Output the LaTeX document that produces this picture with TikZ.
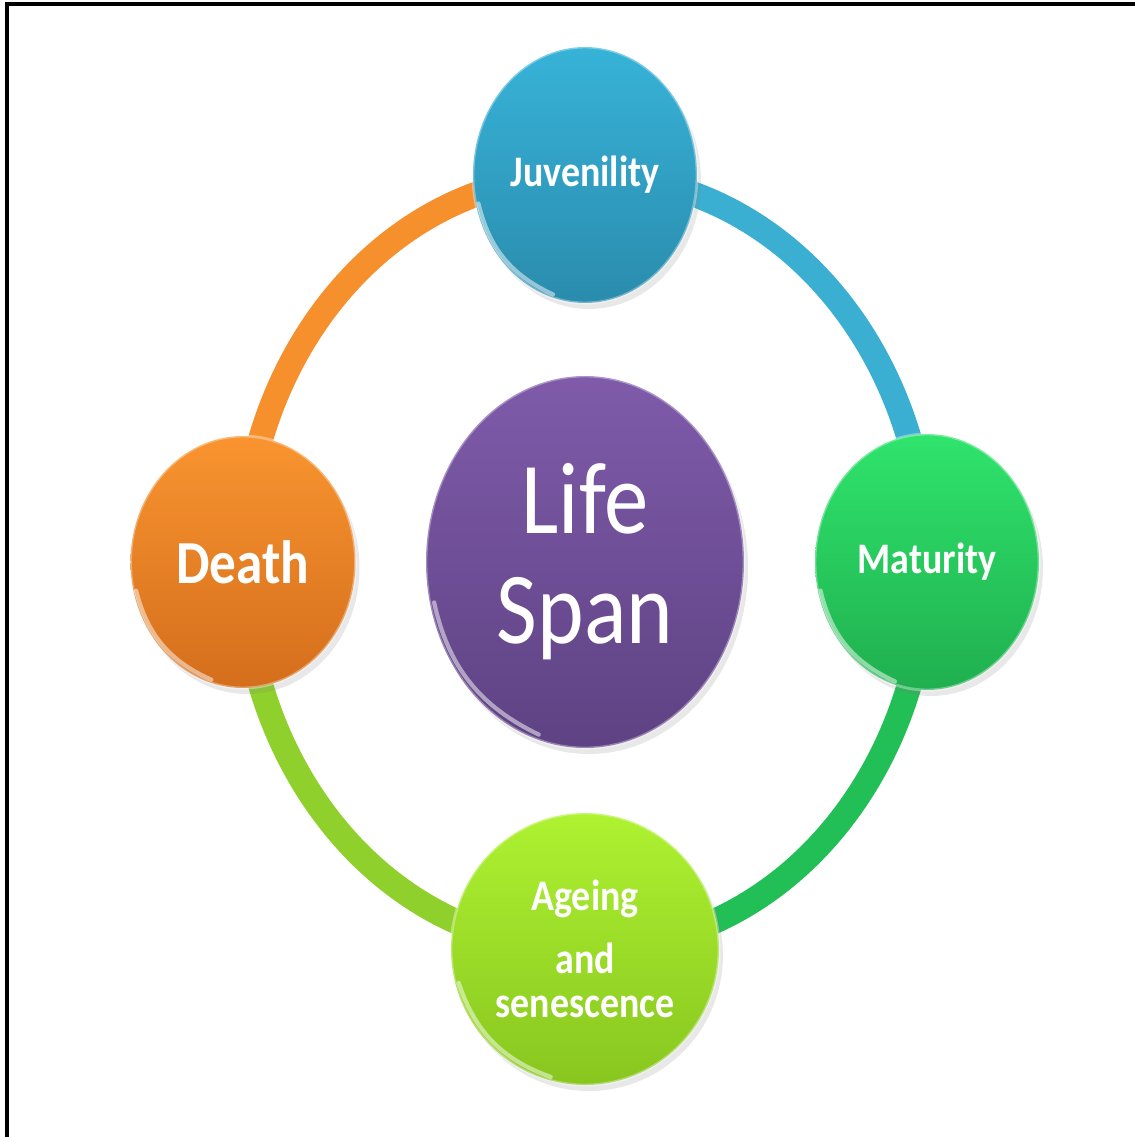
\documentclass[tikz,border=0pt]{standalone}
\usepackage{fontspec}
\setmainfont{Carlito}[FakeStretch=0.87]
\usetikzlibrary{shapes.geometric,positioning,backgrounds,shadows,calc}

\definecolor{lifetop}{HTML}{7F5BAA}
\definecolor{lifebot}{HTML}{5E4283}
\definecolor{juvtop}{HTML}{37B3D8}
\definecolor{juvbot}{HTML}{2A8CAD}
\definecolor{mattop}{HTML}{2FE46C}
\definecolor{matbot}{HTML}{20AF4F}
\definecolor{agetop}{HTML}{AEF231}
\definecolor{agebot}{HTML}{88C61F}
\definecolor{deathtop}{HTML}{F99430}
\definecolor{deathbot}{HTML}{D46E1C}
\definecolor{juvring}{HTML}{3AAFD2}
\definecolor{matring}{HTML}{22BE56}
\definecolor{agering}{HTML}{8FD02C}
\definecolor{deathring}{HTML}{F5902C}

\begin{document}
\begin{tikzpicture}[node distance=3.87cm and 3.42cm,on grid,
  main node/.style={ellipse,draw=white,draw opacity=.35,line width=.8pt,inner sep=0pt,align=center,text=white,
    minimum width=2.24cm,minimum height=2.56cm,font=\fontsize{12.4}{12.5}\selectfont\bfseries,
    drop shadow={opacity=.18,shadow xshift=.04cm,shadow yshift=-.06cm}},
  ring/.style={line width=.25cm},
  gloss/.style={white,opacity=.5,line width=1.2pt,line cap=round}]
  \useasboundingbox (-5.85,-5.75) rectangle (5.50,5.62);
  \draw[line width=.9pt] (-5.78,-5.75) -- (-5.78,5.58) -- (5.50,5.58);

  \node[main node,minimum width=3.18cm,minimum height=3.72cm,top color=lifetop,bottom color=lifebot,
    font=\fontsize{29}{31.3}\selectfont] (0) {Life\\Span};
  \node[main node,top color=juvtop,bottom color=juvbot] (1) [above=of 0] {Juvenility};
  \node[main node,top color=mattop,bottom color=matbot] (2) [right=of 0] {Maturity};
  \node[main node,minimum width=2.68cm,minimum height=2.72cm,top color=agetop,bottom color=agebot] (3) [below=of 0]
    {Ageing\\[5.4pt]and\\senescence};
  \node[main node,minimum width=2.25cm,minimum height=2.52cm,top color=deathtop,bottom color=deathbot,
    font=\fontsize{17.4}{18}\selectfont\bfseries] (4) [left=of 0] {Death};

  % shine on the lower left rim
  \foreach \n in {0,...,4}
    \draw[gloss] ($(\n.center)!.965!(\n.195)$) to[bend right=26] ($(\n.center)!.965!(\n.255)$);

  \begin{pgfonlayer}{background}
  \path[ring]
  (1.center) edge[out=0,in=90,draw=juvring] (2.center)
  (2.center) edge[out=-90,in=0,draw=matring] (3.center)
  (3.center) edge[out=180,in=-90,draw=agering] (4.center)
  (4.center) edge[out=90,in=180,draw=deathring] (1.center);
  \end{pgfonlayer}
\end{tikzpicture}
\end{document}
